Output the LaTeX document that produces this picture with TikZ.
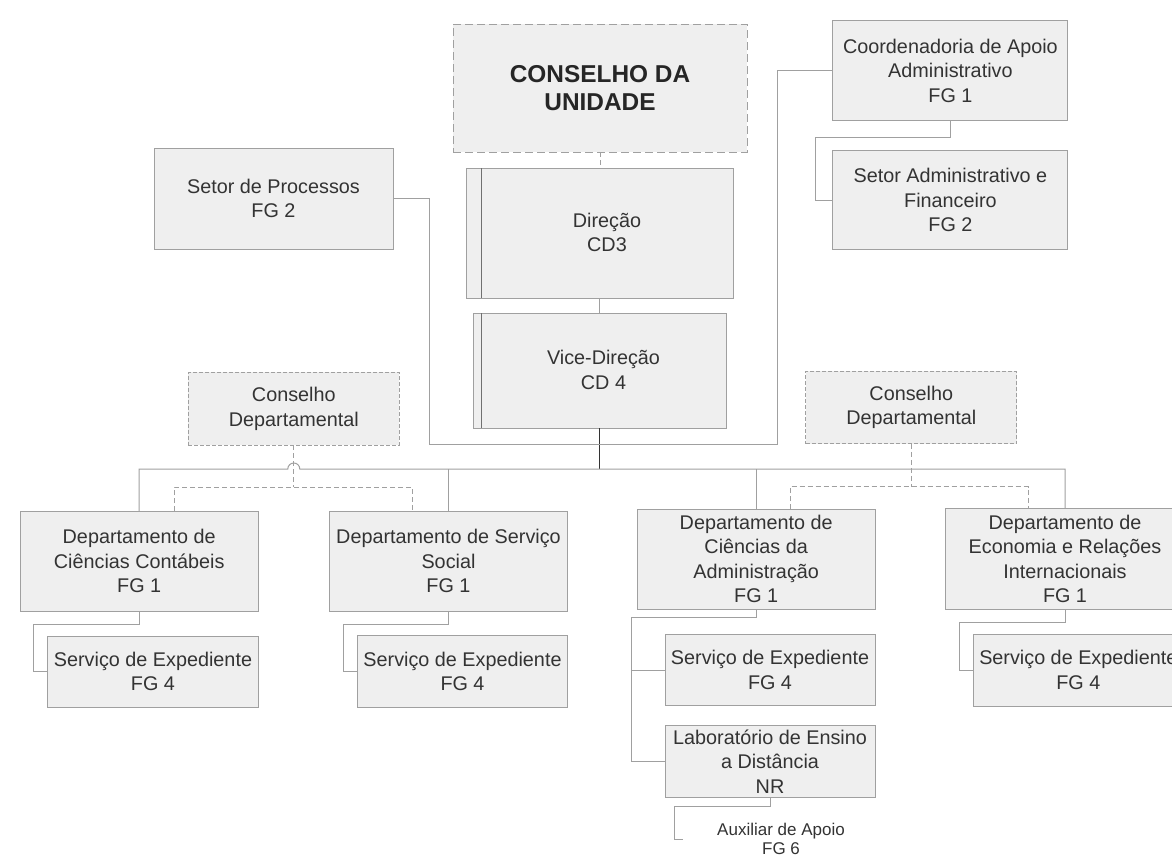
\documentclass[tikz,border=0pt]{standalone}
\usepackage{fontspec}
\setmainfont{Liberation Sans}
\definecolor{boxfill}{HTML}{EFEFEF}
\definecolor{boxline}{HTML}{A0A0A0}
\definecolor{txtc}{HTML}{333333}
\definecolor{connc}{HTML}{A0A0A0}
\definecolor{darkc}{HTML}{333333}
\begin{document}
\begin{tikzpicture}[x=1pt,y=-1pt,
  mainfont/.style={font=\fontsize{19.8}{24.5}\selectfont},
  box/.style={draw=boxline, fill=boxfill, line width=1pt, inner sep=0pt, outer sep=0pt,
              text=txtc, align=center, mainfont},
  councilbox/.style={box, dash pattern=on 4pt off 2pt},
  bigcouncil/.style={box, dash pattern=on 8pt off 4pt, font=\bfseries\fontsize{24.4}{28.3}\selectfont, text=black!85},
  lbl/.style={inner sep=0pt, outer sep=0pt, text=txtc, align=center, mainfont},
  smalllbl/.style={inner sep=0pt, outer sep=0pt, text=txtc, align=center, font=\fontsize{17}{19}\selectfont},
  strip/.style={draw=boxline!70!black, line width=1pt},
  conn/.style={draw=connc, line width=1pt},
  darkconn/.style={draw=darkc, line width=1.3pt},
  dconn/.style={draw=connc, line width=1pt, dash pattern=on 5pt off 3pt}
]
\useasboundingbox (0,0) rectangle (1172,854);
\clip (0,0) rectangle (1172,854);
\fill[white] (0,0) rectangle (1172,854);

% ---- top level ----
\node[bigcouncil, minimum width=294pt, minimum height=128pt] (cu) at (600,88) {CONSELHO DA\\UNIDADE};

\node[box, minimum width=267pt, minimum height=130pt] (dir) at (599.5,233) {};
\draw[strip] ([xshift=15pt]dir.north west) -- ([xshift=15pt]dir.south west);
\node[lbl] (dirt) at (607,232.5) {Direção\\CD3};

\node[box, minimum width=253pt, minimum height=115pt] (vice) at (599.5,370.5) {};
\draw[strip] ([xshift=8pt]vice.north west) -- ([xshift=8pt]vice.south west);
\node[lbl] (vicet) at (603.5,370) {Vice-Direção\\CD 4};

\node[box, minimum width=239pt, minimum height=101pt] (sp) at (273.5,198.5) {Setor de Processos\\FG 2};

\node[box, minimum width=235pt, minimum height=100pt] (coord) at (950.4,70.7) {Coordenadoria de Apoio\\Administrativo\\FG 1};
\node[box, minimum width=235pt, minimum height=99pt] (saf) at (950.4,200.3) {Setor Administrativo e\\Financeiro\\FG 2};

% ---- councils ----
\node[councilbox, minimum width=211pt, minimum height=72.7pt] (cdl) at (293.8,408.7) {Conselho\\Departamental};
\node[councilbox, minimum width=211pt, minimum height=72.5pt] (cdr) at (911.3,407.5) {Conselho\\Departamental};

% ---- departments ----
\node[box, minimum width=238.3pt, minimum height=100pt] (d1) at (139.2,561) {Departamento de\\Ciências Contábeis\\FG 1};
\node[box, minimum width=238.4pt, minimum height=100pt] (d2) at (448.5,561) {Departamento de Serviço\\Social\\FG 1};
\node[box, minimum width=237.6pt, minimum height=100pt] (d3) at (756.2,559) {Departamento de\\Ciências da\\Administração\\FG 1};
\node[box, minimum width=240pt, minimum height=101pt] (d4) at (1065,558.8) {Departamento de\\Economia e Relações\\Internacionais\\FG 1};

% ---- sub units ----
\node[box, minimum width=210.5pt, minimum height=71pt] (s1) at (153,671.5) {Serviço de Expediente\\FG 4};
\node[box, minimum width=210.4pt, minimum height=71.6pt] (s2) at (462.5,671.5) {Serviço de Expediente\\FG 4};
\node[box, minimum width=210pt, minimum height=71.4pt] (s3) at (770,670) {Serviço de Expediente\\FG 4};
\node[box, minimum width=210pt, minimum height=71.6pt] (lab) at (770,761.5) {Laboratório de Ensino\\a Distância\\NR};
\node[box, minimum width=210pt, minimum height=72pt] (s4) at (1078.3,670) {Serviço de Expediente\\FG 4};
\node[smalllbl, minimum width=196pt, minimum height=30pt] (aux) at (781,839) {Auxiliar de Apoio\\FG 6};

% ---- connectors, top ----
\draw[dconn] (cu.south) -- (cu.south |- dir.north);
\draw[conn] (dir.south) -- (dir.south |- vice.north);
\coordinate (bus) at (599.5,469);
\draw[darkconn] (vice.south) -- (bus);
\draw[conn] (sp.east) -- (429,198.5) -- (429,444) -- (777,444) |- (coord.west);
\draw[conn] (coord.south) -- (950.4,137.3) -- (815,137.3) |- (saf.west);

% ---- bus with jump ----
\draw[conn] (d1.north) |- (287.8,469) arc (180:360:6) -- (d4.north |- bus) -- (d4.north);
\draw[conn] (d2.north) -- (d2.north |- bus);
\draw[conn] (d3.north) -- (d3.north |- bus);

% ---- council dashed links ----
\coordinate (jl) at (293.8,487);
\coordinate (jr) at (911.3,486.5);
\draw[dconn] (cdl.south) -- (jl);
\draw[dconn] ([xshift=35pt]d1.north) |- (jl) -| ([xshift=-36.5pt]d2.north);
\draw[dconn] (cdr.south) -- (jr);
\draw[dconn] ([xshift=34pt]d3.north) |- (jr) -| ([xshift=-36.7pt]d4.north);

% ---- dept to sub units ----
\draw[conn] (d1.south) |- (33.7,624.3) |- (s1.west);
\draw[conn] (d2.south) |- (343.3,624.3) |- (s2.west);
\coordinate (a3) at (631.7,617.3);
\draw[conn] (d3.south) |- (a3) |- (lab.west);
\draw[conn] (a3 |- s3.west) -- (s3.west);
\draw[conn] (d4.south) |- (959.3,622.7) |- (s4.west);
\draw[conn] (lab.south) |- (674,806.7) |- (aux.west);
\end{tikzpicture}
\end{document}
